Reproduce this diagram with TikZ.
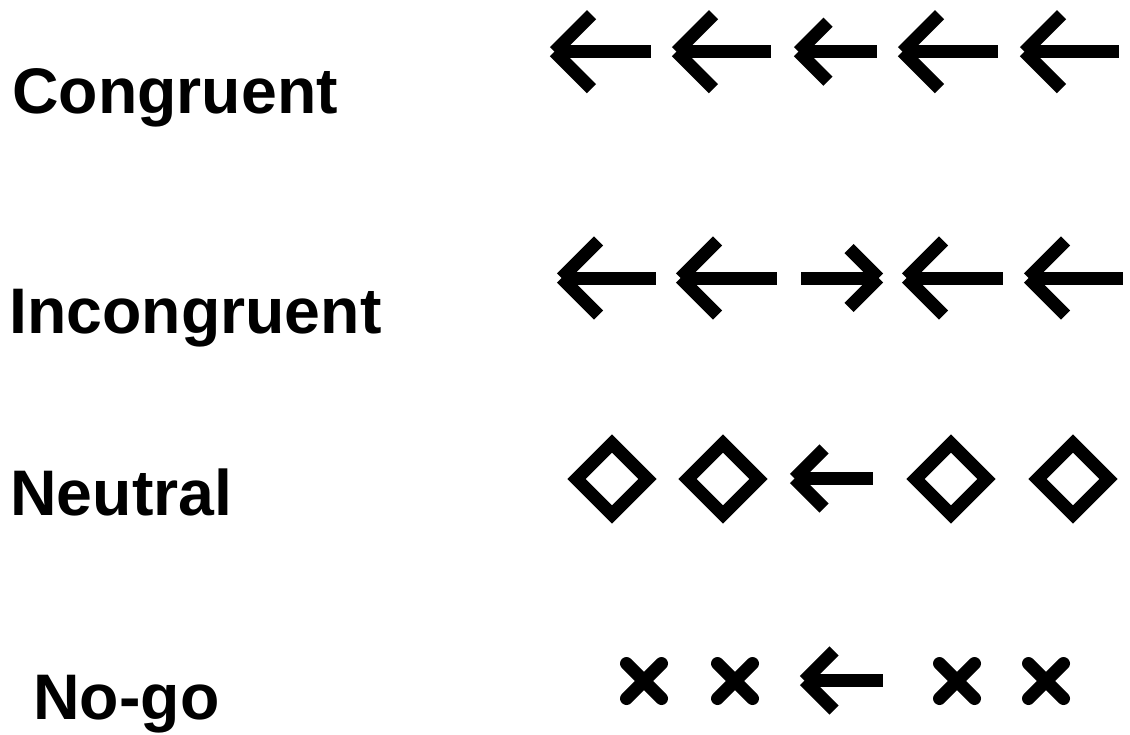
\documentclass[tikz,border=0pt]{standalone}
\usepackage{fontspec}
\setmainfont{Liberation Sans}
\usepackage{tikz}

\tikzset{
  glyph/.style={line width=6.5pt, line cap=butt},
  pics/leftarrow/.style 2 args={code={
    \draw[glyph] (0,0) -- (#1,0);
    \draw[glyph] (0,0) -- (#2,-#2);
    \draw[glyph] (0,0) -- (#2,#2);
  }},
  pics/rightarrow/.style 2 args={code={
    \draw[glyph] (0,0) -- (-#1,0);
    \draw[glyph] (0,0) -- (-#2,-#2);
    \draw[glyph] (0,0) -- (-#2,#2);
  }},
  pics/diamondmark/.style={code={
    \draw[glyph, line join=miter] (-35.5,0) -- (0,-35.5) -- (35.5,0) -- (0,35.5) -- cycle;
  }},
  pics/crossmark/.style={code={
    \draw[glyph, line cap=round] (-17.5,-17.5) -- (17.5,17.5) (-17.5,17.5) -- (17.5,-17.5);
  }}
}

\begin{document}
\begin{tikzpicture}[x=0.5pt,y=-0.5pt,
  condname/.style={font=\fontsize{32.2}{38}\selectfont\bfseries, anchor=base west, inner sep=0pt}]
\useasboundingbox (0,0) rectangle (1130,734);

% Condition names
\node[condname] (congruent) at (12,113) {Congruent};
\node[condname] (incongruent) at (9,333) {Incongruent};
\node[condname] (neutral) at (10,515) {Neutral};
\node[condname] (nogo) at (33,719) {No-go};

% Congruent row
\pic at (554.5,51.7) {leftarrow={96}{37}};
\pic at (676.5,51.7) {leftarrow={94}{37}};
\pic at (798.5,51.7) {leftarrow={78}{29.5}};
\pic at (902.5,51.7) {leftarrow={95}{37}};
\pic at (1024.5,51.7) {leftarrow={94}{37}};

% Incongruent row
\pic at (561.5,278) {leftarrow={94}{37}};
\pic at (680.5,278) {leftarrow={96}{37}};
\pic at (878.5,278) {rightarrow={78}{29.5}};
\pic at (906.5,278) {leftarrow={96}{37}};
\pic at (1028.5,278) {leftarrow={94}{37}};

% Neutral row
\pic at (612,479) {diamondmark};
\pic at (723,479) {diamondmark};
\pic at (794.5,478.5) {leftarrow={78}{29.5}};
\pic at (951,479) {diamondmark};
\pic at (1073,479) {diamondmark};

% No-go row
\pic at (644,681) {crossmark};
\pic at (735,681) {crossmark};
\pic at (804.5,680.5) {leftarrow={78}{29.5}};
\pic at (957,681) {crossmark};
\pic at (1046,681) {crossmark};
\end{tikzpicture}
\end{document}
